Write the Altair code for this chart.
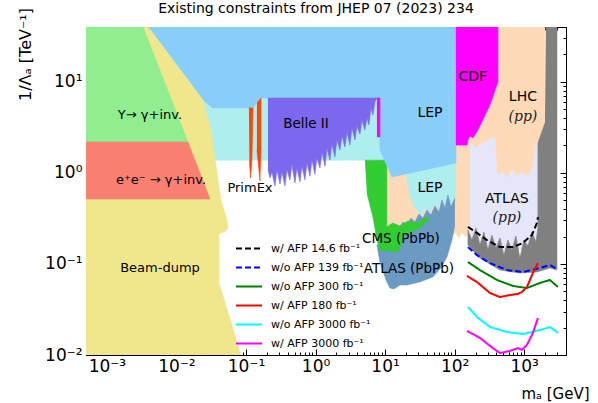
import altair as alt
import pandas as pd

# Axis ranges: m_a [GeV] and 1/Lambda_a [TeV^-1]
X_DOMAIN = [5e-4, 4e3]
Y_DOMAIN = [1e-2, 40]

# ---------------- excluded regions (polygon vertices) ----------------
upsilon_x = [5e-4, 0.0033, 0.0146, 5e-4]
upsilon_y = [40, 40, 2.18, 2.18]

ee_x = [5e-4, 0.0146, 0.0303, 5e-4]
ee_y = [2.18, 2.18, 0.516, 0.516]

beamdump_x = [0.0033, 0.0039, 0.024, 0.0313, 0.0436, 0.0532, 0.055, 0.0515,
              0.0409, 0.0409, 0.0845, 5e-4, 5e-4]
beamdump_y = [40, 40, 6.31, 2.96, 0.504, 0.304, 0.25, 0.23,
              0.213, 0.0618, 0.01, 0.01, 40]

lep_x = [0.0039, 104.5, 104.5, 12.55, 8.44, 8.44, 0.1588, 0.1259, 0.0335, 0.024]
lep_y = [40, 40, 1.28, 0.902, 1.78, 6.64, 6.64, 5.16, 5.16, 6.31]

lep2_x = [0.0184, 104.5, 104.5, 91.5, 80.2, 72.6, 63.6, 55.7, 48.8, 42.7, 37.4,
          32.8, 28.7, 25.2, 22.0, 19.95, 18.7, 5.31, 0.0218]
lep2_y = [7.73, 7.73, 0.504, 0.444, 0.543, 0.391, 0.504, 0.372, 0.444, 0.344, 0.411,
          0.336, 0.391, 0.444, 0.649, 1.02, 1.28, 1.38, 1.38]

cdf_x = [104.5, 419.8, 419.8, 322, 216.4, 183.5, 166, 155.5, 150.4, 104.5]
cdf_y = [40, 40, 10, 5.56, 2.96, 2.42, 2.54, 2.30, 2.02, 2.02]

strip_x = [7.64, 8.44, 8.44, 7.64]
strip_y = [6.64, 6.64, 2.48, 2.48]

belle_x = [0.207, 7.64, 7.15, 6.69, 6.26, 5.86, 5.48, 5.13, 4.65, 4.35, 3.94, 3.69,
           3.34, 3.12, 2.83, 2.65, 2.40, 2.24, 2.03, 1.90, 1.72, 1.61, 1.46, 1.37,
           1.24, 1.157, 1.047, 0.98, 0.888, 0.831, 0.752, 0.704, 0.637, 0.597, 0.540,
           0.506, 0.458, 0.428, 0.388, 0.363, 0.329, 0.308, 0.279, 0.261, 0.236,
           0.221, 0.207]
belle_y = [6.64, 6.64, 6.0, 4.32, 5.16, 3.36, 4.01, 2.96, 3.81, 2.66, 3.27, 2.30,
           3.11, 2.02, 2.81, 1.92, 2.54, 1.78, 2.30, 1.49, 2.07, 1.38, 1.87, 1.18,
           1.69, 1.13, 1.46, 0.964, 1.38, 0.917, 1.28, 0.836, 1.18, 0.795, 1.13,
           0.775, 1.22, 0.836, 1.08, 0.718, 1.02, 0.755, 1.08, 0.718, 1.02,
           0.879, 1.08]

primex1_x = [0.1102, 0.1259, 0.1217, 0.116, 0.112]
primex1_y = [5.16, 5.16, 1.38, 0.879, 1.38]
primex2_x = [0.1437, 0.164, 0.164, 0.1588, 0.151, 0.1437]
primex2_y = [5.85, 6.64, 1.78, 0.815, 1.22, 1.78]

lhc_x = [9.95, 104.5, 104.5, 1990, 1990, 1579, 1579, 166, 145.4, 127.4, 115.4,
         104.5, 61.5, 9.95]
lhc_y = [1.78, 2.30, 40, 40, 3.53, 2.13, 0.504, 0.236, 0.198, 0.224, 0.193,
         0.219, 0.183, 0.161]

atlas_x = [166, 202.8, 273, 380, 405.8, 495.6, 565, 667, 787, 928, 1097, 1294,
           1528, 1579, 1579, 166]
atlas_y = [2.13, 1.87, 2.18, 2.48, 0.948, 1.02, 0.879, 1.08, 0.925, 1.02, 0.902,
           1.08, 2.18, 2.18, 0.142, 0.142]

grey_x = [2057, 2964, 2964, 2349, 1528, 869, 448.7, 231.3, 155.5, 155.5, 177.5,
          202.8, 231.3, 264, 301.5, 343.8, 392.6, 448.7, 512, 584, 667, 760.7, 869,
          993, 1133, 1294, 1478, 1579, 1579, 1990]
grey_y = [40, 40, 0.0857, 0.0902, 0.0815, 0.0795, 0.0857, 0.116, 0.161, 0.236, 0.183,
          0.248, 0.161, 0.224, 0.142, 0.208, 0.150, 0.193, 0.125, 0.183, 0.142, 0.203,
          0.116, 0.183, 0.157, 0.224, 0.174, 0.248, 2.13, 3.53]

pbpb_atlas_x = [101, 88.6, 80.2, 72.6, 65.7, 59.5, 52.1, 45.7, 40.0, 35.1, 30.7, 26.9,
                23.5, 20.6, 18.1, 15.8, 12.97, 9.95, 7.64, 8.44, 10.3, 11.7, 13.4,
                16.4, 20.6, 31.7, 48.8, 63.6, 77.6, 91.5, 101]
pbpb_atlas_y = [0.530, 0.422, 0.571, 0.411, 0.504, 0.372, 0.433, 0.344, 0.391, 0.319,
                0.353, 0.289, 0.319, 0.268, 0.289, 0.248, 0.224, 0.183, 0.161, 0.105,
                0.0667, 0.0544, 0.0531, 0.0587, 0.0587, 0.0634, 0.0720, 0.0902, 0.119,
                0.183, 0.268]

pbpb_cms_x = [5.13, 10.6, 10.6, 12.97, 16.4, 21.3, 28.7, 37.4, 44.2, 31.7, 22.8,
              18.1, 16.4, 15.3, 8.44, 7.64, 6.69, 5.48]
pbpb_cms_y = [1.38, 1.38, 0.255, 0.282, 0.261, 0.296, 0.282, 0.319, 0.319, 0.248,
              0.224, 0.193, 0.153, 0.135, 0.142, 0.183, 0.327, 0.601]

# ---------------- projected sensitivities ----------------
afp146_x = [155.5, 209.4, 291.7, 448.7, 690, 960, 1294, 1528, 1579]
afp146_y = [0.255, 0.219, 0.183, 0.153, 0.153, 0.170, 0.208, 0.282, 0.327]

noafp139_x = [155.5, 209.4, 322, 565, 960, 1687, 2349, 2964]
noafp139_y = [0.153, 0.125, 0.102, 0.0857, 0.0815, 0.0902, 0.0973, 0.0879]

noafp300_x = [155.5, 231.3, 405.8, 690, 1097, 1687, 2349, 3062]
noafp300_y = [0.105, 0.0857, 0.0667, 0.0573, 0.0544, 0.0618, 0.0667, 0.0558]

afp180_x = [150.4, 209.4, 322, 448.7, 625, 814, 928, 1097, 1337, 1579]
afp180_y = [0.0738, 0.0634, 0.048, 0.0433, 0.0456, 0.0468, 0.0492, 0.0558, 0.0795, 0.102]

noafp3000_x = [155.5, 209.4, 322, 565, 960, 1687, 2349, 3062]
noafp3000_y = [0.0337, 0.0261, 0.0203, 0.0179, 0.0170, 0.0188, 0.0203, 0.0175]

afp3000_x = [150.4, 231.3, 355.6, 448.7, 625, 814, 928, 1097, 1337, 1579]
afp3000_y = [0.0184, 0.0154, 0.0119, 0.0105, 0.0111, 0.0119, 0.0114, 0.0129, 0.0175, 0.0255]

curve_names = ["w/ AFP 14.6 fb⁻¹", "w/o AFP 139 fb⁻¹", "w/o AFP 300 fb⁻¹",
               "w/ AFP 180 fb⁻¹", "w/o AFP 3000 fb⁻¹", "w/ AFP 3000 fb⁻¹"]
curve_colors = ["black", "blue", "green", "red", "cyan", "magenta"]
curve_dashes = [[6, 3], [6, 3], [1, 0], [1, 0], [1, 0], [1, 0]]

# ---------------- region labels ----------------
label_text = ["Υ→ γ+inv.", "e⁺e⁻ → γ+inv.", "Beam-dump", "PrimEx", "Belle II", "LEP",
              "LEP", "CDF", "LHC", "ATLAS", "CMS (PbPb)", "ATLAS (PbPb)"]
label_x = [0.00416, 0.0060, 0.0058, 0.114, 0.728, 44.2, 44.2, 183, 960, 565, 16.9, 22.0]
label_y = [4.32, 0.836, 0.0902, 0.682, 3.44, 4.55, 0.682, 11.3, 6.81, 0.516, 0.188, 0.0879]
label_size = [13, 13, 13, 13, 13.5, 14, 14, 14, 14, 14, 13.5, 13.5]

pp_x = [960, 565]
pp_y = [4.11, 0.319]

FONT = "DejaVu Sans"
xs = alt.Scale(type="log", domain=X_DOMAIN, nice=False)
ys = alt.Scale(type="log", domain=Y_DOMAIN, nice=False)

x_ticks = [m * 10.0 ** e for e in range(-4, 4) for m in range(1, 10)
           if X_DOMAIN[0] <= m * 10.0 ** e <= X_DOMAIN[1]]
y_ticks = [m * 10.0 ** e for e in range(-2, 2) for m in range(1, 10)
           if Y_DOMAIN[0] <= m * 10.0 ** e <= Y_DOMAIN[1]]

decade = "abs(log(datum.value)/LN10 - round(log(datum.value)/LN10)) < 0.01"
sup = "['⁻⁴','⁻³','⁻²','⁻¹','⁰','¹','²','³'][round(log(datum.value)/LN10) + 4]"
label_expr = f"{decade} ? '10' + {sup} : ''"
tick_expr = {"expr": f"{decade} ? -6 : -3"}

common_axis = dict(grid=False, tickColor="black", domainColor="black",
                   labelColor="black", labelFont=FONT, labelFontSize=17,
                   labelOverlap=False, labelFlush=False, tickSize=tick_expr,
                   titleFont=FONT, titleFontSize=15, titleFontWeight="normal",
                   titleColor="black")

x_bottom = alt.Axis(orient="bottom", values=x_ticks, labelExpr=label_expr,
                    labelPadding=9, title="mₐ [GeV]", titleX=469, titleY=38,
                    titleAlign="center", titleBaseline="middle", **common_axis)
y_left = alt.Axis(orient="left", values=y_ticks, labelExpr=label_expr,
                  labelPadding=10, title="1/Λₐ [TeV⁻¹]", titleX=-61, titleY=27,
                  titleAngle=270, titleAlign="center", titleBaseline="middle",
                  **{**common_axis, "titleFontSize": 16})
x_top = alt.Axis(orient="top", values=x_ticks, labels=False, title=None, **common_axis)
y_right = alt.Axis(orient="right", values=y_ticks, labels=False, title=None, **common_axis)


def region(xv, yv, color):
    df = pd.DataFrame({"x": xv, "y": yv, "i": list(range(len(xv)))})
    return alt.Chart(df).mark_line(
        fill=color, stroke=color, strokeWidth=0.6, clip=True
    ).encode(
        x=alt.X("x:Q", scale=xs, axis=None),
        y=alt.Y("y:Q", scale=ys, axis=None),
        order=alt.Order("i:Q"),
    )


regions = [
    region(lhc_x, lhc_y, "#FFDAB9"),
    region(atlas_x, atlas_y, "#E6E6FA"),
    region(grey_x, grey_y, "#808080"),
    region(lep2_x, lep2_y, "#AFEEEE"),
    region(pbpb_atlas_x, pbpb_atlas_y, "#6B9BC3"),
    region(pbpb_cms_x, pbpb_cms_y, "#32CD32"),
    region(lep_x, lep_y, "#87CEFA"),
    region(strip_x, strip_y, "#FF00FF"),
    region(cdf_x, cdf_y, "#FF00FF"),
    region(belle_x, belle_y, "#7B68EE"),
    region(primex1_x, primex1_y, "#FF4500"),
    region(primex2_x, primex2_y, "#FF4500"),
    region(beamdump_x, beamdump_y, "#F0E68C"),
    region(upsilon_x, upsilon_y, "#90EE90"),
    region(ee_x, ee_y, "#FA8072"),
]

curve_rows = []
for name, xv, yv in zip(curve_names,
                        [afp146_x, noafp139_x, noafp300_x, afp180_x, noafp3000_x, afp3000_x],
                        [afp146_y, noafp139_y, noafp300_y, afp180_y, noafp3000_y, afp3000_y]):
    for i, (a, b) in enumerate(zip(xv, yv)):
        curve_rows.append({"series": name, "x": a, "y": b, "i": i})

legend = alt.Legend(title=None, orient="none", legendX=149, legendY=214,
                    symbolType="stroke", symbolSize=676, symbolStrokeWidth=2,
                    labelFont=FONT, labelFontSize=11, labelColor="black",
                    labelOffset=8, clipHeight=15, rowPadding=4, padding=0)

curves = alt.Chart(pd.DataFrame(curve_rows)).mark_line(strokeWidth=2, clip=True).encode(
    x=alt.X("x:Q", scale=xs, axis=x_bottom),
    y=alt.Y("y:Q", scale=ys, axis=y_left),
    color=alt.Color("series:N", sort=curve_names,
                    scale=alt.Scale(domain=curve_names, range=curve_colors), legend=legend),
    strokeDash=alt.StrokeDash("series:N", sort=curve_names,
                              scale=alt.Scale(domain=curve_names, range=curve_dashes),
                              legend=legend),
    order=alt.Order("i:Q"),
)

labels = alt.Chart(pd.DataFrame({"x": label_x, "y": label_y, "t": label_text,
                                 "s": label_size})).mark_text(
    font=FONT, color="black", align="center", baseline="middle"
).encode(
    x=alt.X("x:Q", scale=xs, axis=x_top),
    y=alt.Y("y:Q", scale=ys, axis=y_right),
    text="t:N",
    size=alt.Size("s:Q", scale=None, legend=None),
)

pp_labels = alt.Chart(pd.DataFrame({"x": pp_x, "y": pp_y, "t": ["(pp)", "(pp)"]})).mark_text(
    font="DejaVu Serif", fontStyle="italic", fontSize=14, color="#222222",
    align="center", baseline="middle"
).encode(
    x=alt.X("x:Q", scale=xs, axis=None),
    y=alt.Y("y:Q", scale=ys, axis=None),
    text="t:N",
)

chart = alt.layer(*regions, curves, labels, pp_labels).resolve_axis(
    x="independent", y="independent"
).properties(
    width=480, height=328,
    autosize=alt.AutoSizeParams(type="none"),
    padding={"left": 86, "top": 27, "right": 32, "bottom": 48},
    title=alt.TitleParams("Existing constraints from JHEP 07 (2023) 234", font=FONT,
                          fontSize=14, fontWeight="normal", color="black",
                          anchor="middle", dx=-10, dy=29, offset=6, baseline="bottom"),
).configure_view(stroke="black", strokeWidth=1)

chart.save("out.html", embed_options={"renderer": "svg", "actions": False})
